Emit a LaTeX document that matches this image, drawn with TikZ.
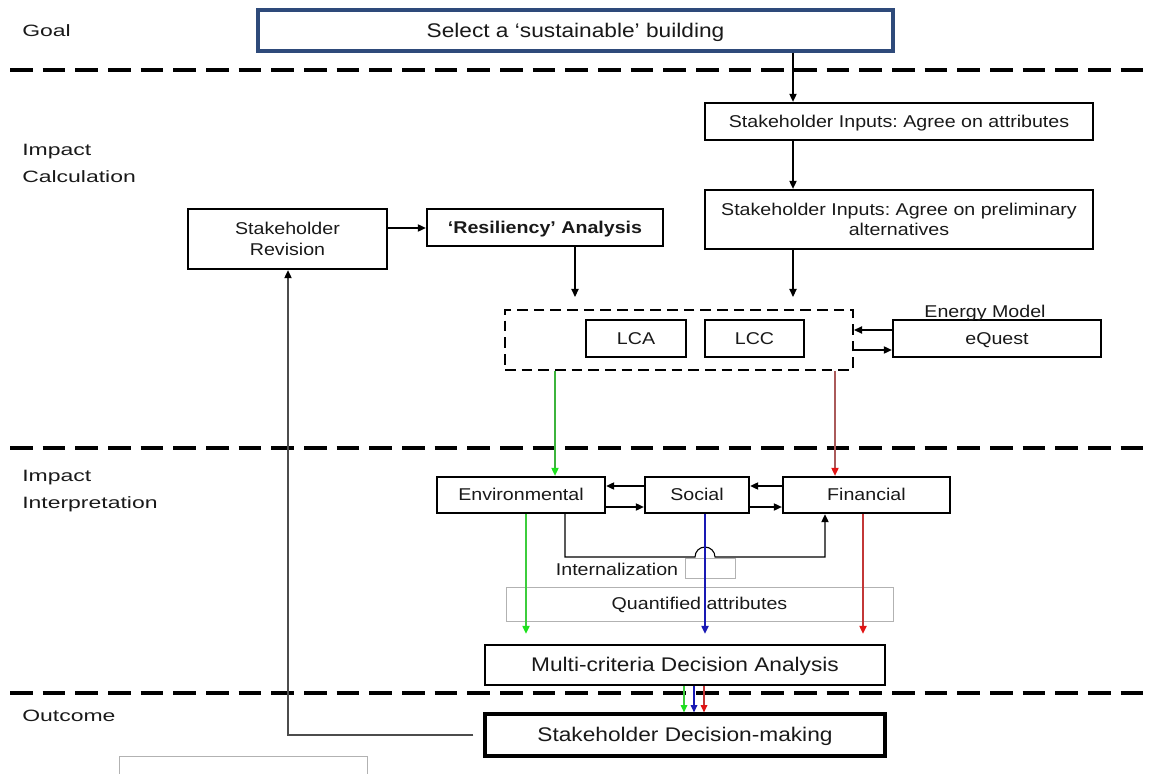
\documentclass[tikz,border=0pt]{standalone}
\usepackage{fontspec}
\setmainfont{Liberation Sans}[FakeStretch=1.15]
\newfontfamily\lblfont{Liberation Sans}[FakeStretch=1.4]
\frenchspacing
\usetikzlibrary{arrows.meta,calc}
\definecolor{goalblue}{RGB}{46,74,122}
\definecolor{gline}{RGB}{60,180,60}
\definecolor{gtip}{RGB}{30,225,30}
\definecolor{rline}{RGB}{170,90,90}
\definecolor{rtip}{RGB}{225,20,20}
\definecolor{gline2}{RGB}{60,205,60}
\definecolor{rline2}{RGB}{195,55,55}
\definecolor{bline}{RGB}{25,25,180}
\definecolor{txt}{RGB}{25,25,25}
\begin{document}
\begin{tikzpicture}[x=0.75pt,y=-0.75pt,
  txtn/.style={font=\fontsize{12.8}{15.5}\selectfont, text=txt, align=center, text depth=0.3pt},
  txtb/.style={font=\fontsize{14.8}{17}\selectfont, text=txt, align=center, text depth=0.3pt},
  box/.style={draw=black, line width=1.8pt, inner sep=0pt, txtn},
  graybox/.style={draw=black!30, line width=0.6pt, inner sep=0pt, txtn},
  lbl/.style={font=\lblfont\fontsize{12.3}{20}\selectfont, text=txt, align=left, anchor=west, inner sep=0pt},
  sep/.style={line width=2.4pt, dash pattern=on 17pt off 7.5pt},
  tip/.style={-{Triangle[length=6pt,width=5.5pt]}},
  arr/.style={line width=0.8pt, tip},
]
\useasboundingbox (0,0) rectangle (1153,774);
\clip (0,0) rectangle (1153,774);
% separators
\draw[sep] (10,70) -- (1160,70);
\draw[sep] (10,448) -- (1160,448);
\draw[sep] (10,693) -- (1160,693);
% left labels
\node[lbl] (lgoal) at (22,31) {Goal};
\node[lbl] (lcalc) at (22,163.5) {Impact\\Calculation};
\node[lbl] (linterp) at (22,491) {Impact\\Interpretation};
\node[lbl] (lout) at (22,716) {Outcome};
% nodes
\node[draw=goalblue, line width=2.4pt, inner sep=0pt, txtb, minimum width=635*0.75pt, minimum height=41*0.75pt] (goal) at (575.5,30.5) {Select a ‘sustainable’ building};
\node[box, minimum width=388*0.75pt, minimum height=37*0.75pt] (si1) at (899,121.5) {Stakeholder Inputs: Agree on attributes};
\node[box, minimum width=388*0.75pt, minimum height=59*0.75pt] (si2) at (899,219.5) {Stakeholder Inputs: Agree on preliminary\\alternatives};
\node[box, minimum width=199*0.75pt, minimum height=60*0.75pt] (sr) at (287.5,239) {Stakeholder\\Revision};
\node[box, minimum width=236*0.75pt, minimum height=37*0.75pt, font=\bfseries\fontsize{12.8}{15.5}\selectfont] (ra) at (545,227.5) {‘Resiliency’ Analysis};
\node[draw=black, line width=1.6pt, dash pattern=on 8pt off 4.5pt, minimum width=348*0.75pt, minimum height=60*0.75pt, inner sep=0pt] (dash) at (679,340) {};
\node[box, minimum width=100*0.75pt, minimum height=37*0.75pt] (lca) at (636,338.5) {LCA};
\node[box, minimum width=99*0.75pt, minimum height=37*0.75pt] (lcc) at (754.5,338.5) {LCC};
\node[box, minimum width=208*0.75pt, minimum height=37*0.75pt] (eq) at (997,338.5) {eQuest};
\node[txtn, inner sep=0pt] (em) at (985,312) {Energy Model};
\node[box, minimum width=168*0.75pt, minimum height=36*0.75pt] (env) at (521,495) {Environmental};
\node[box, minimum width=104*0.75pt, minimum height=36*0.75pt] (soc) at (697,495) {Social};
\node[box, minimum width=167*0.75pt, minimum height=36*0.75pt] (fin) at (866.5,495) {Financial};
\node[graybox, minimum width=50*0.75pt, minimum height=20*0.75pt] (ibox) at (710,568) {};
\node[txtn, inner sep=0pt] (intl) at (617,570) {Internalization};
\node[graybox, minimum width=387*0.75pt, minimum height=34*0.75pt] (quant) at (699.5,604) {Quantified attributes};
\node[box, minimum width=400*0.75pt, minimum height=40*0.75pt, txtb] (mcda) at (685,665) {Multi-criteria Decision Analysis};
\node[box, line width=2.4pt, minimum width=400*0.75pt, minimum height=42*0.75pt, txtb] (sdm) at (685,735) {Stakeholder Decision-making};
\node[graybox, minimum width=248*0.75pt, minimum height=40*0.75pt] (bbox) at (243,776) {};
% connectors
\draw[arr] (goal.south -| 793,0) -- (si1.north -| 793,0);
\draw[arr] (si1.south -| 793,0) -- (si2.north -| 793,0);
\draw[arr, shorten >=9pt] (si2.south -| 793,0) -- (dash.north -| 793,0);
\draw[arr, shorten >=9pt] (ra.south -| 575,0) -- (dash.north -| 575,0);
\draw[arr] (sr.east |- 0,228) -- (ra.west |- 0,228);
\draw[arr] (eq.west |- 0,330) -- (dash.east |- 0,330);
\draw[arr] (dash.east |- 0,350) -- (eq.west |- 0,350);
\draw[line width=0.8pt, draw=gline, -{Triangle[length=6pt,width=5.5pt,color=gtip]}] (dash.south -| 555,0) -- (env.north -| 555,0);
\draw[line width=0.8pt, draw=rline, -{Triangle[length=6pt,width=5.5pt,color=rtip]}] (dash.south -| 835,0) -- (fin.north -| 835,0);
\draw[arr] (soc.west |- 0,486) -- (env.east |- 0,486);
\draw[arr] (env.east |- 0,507) -- (soc.west |- 0,507);
\draw[arr] (fin.west |- 0,486) -- (soc.east |- 0,486);
\draw[arr] (soc.east |- 0,507) -- (fin.west |- 0,507);
\draw[arr] (env.south -| 565,0) -- (565,557) -- (695,557) arc[start angle=180, end angle=0, radius=7.5pt] -- (825,557) -- (fin.south -| 825,0);
\draw[line width=0.9pt, draw=gline2, -{Triangle[length=6pt,width=5.5pt,color=gtip]}, shorten >=7.5pt] (env.south -| 526,0) -- (mcda.north -| 526,0);
\draw[line width=0.9pt, draw=bline, -{Triangle[length=6pt,width=5.5pt,color=bline]}, shorten >=7.5pt] (soc.south -| 705,0) -- (mcda.north -| 705,0);
\draw[line width=0.9pt, draw=rline2, -{Triangle[length=6pt,width=5.5pt,color=rtip]}, shorten >=7.5pt] (fin.south -| 863,0) -- (mcda.north -| 863,0);
\draw[line width=0.9pt, draw=gline2, -{Triangle[length=5.5pt,width=5pt,color=gtip]}] (mcda.south -| 684,0) -- (sdm.north -| 684,0);
\draw[line width=0.9pt, draw=bline, -{Triangle[length=5.5pt,width=5pt,color=bline]}] (mcda.south -| 694,0) -- (sdm.north -| 694,0);
\draw[line width=0.9pt, draw=rline2, -{Triangle[length=5.5pt,width=5pt,color=rtip]}] (mcda.south -| 704,0) -- (sdm.north -| 704,0);
\draw[line width=0.8pt, draw=black!70, -{Triangle[length=6pt,width=5.5pt,color=black]}, shorten <=7.5pt] (sdm.west) -- (sdm.west -| 288,0) -- (sr.south -| 288,0);
\end{tikzpicture}
\end{document}
